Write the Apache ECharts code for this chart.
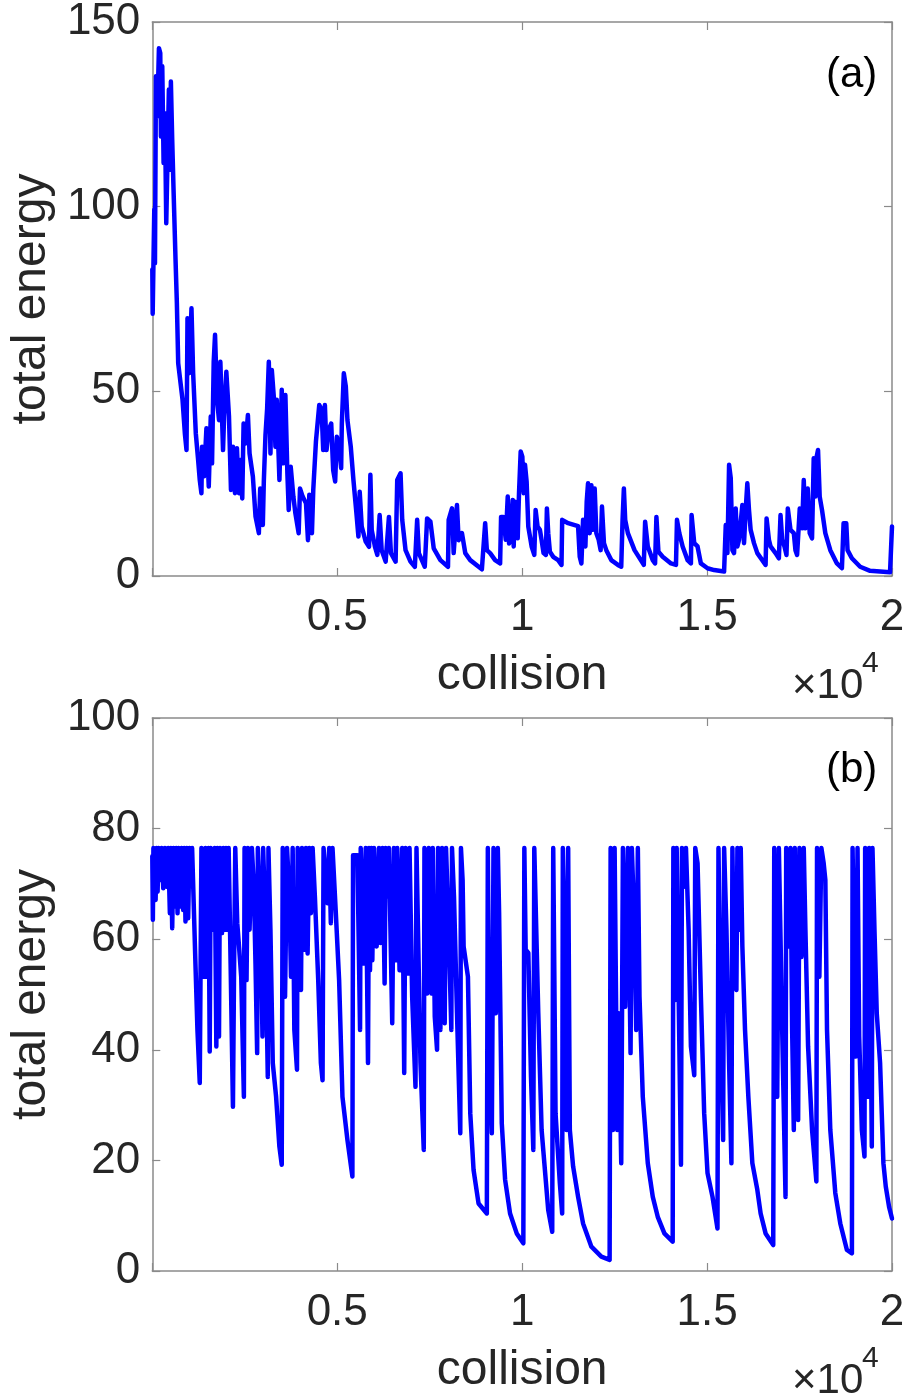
<!DOCTYPE html>
<html>
<head>
<meta charset="utf-8">
<script src="https://cdn.jsdelivr.net/npm/echarts@6/dist/echarts.min.js"></script>
<style>
  html, body { margin: 0; padding: 0; background: #fff; }
  #chart { width: 908px; height: 1399px; }
</style>
</head>
<body>
<div id="chart"></div>
<script>
// ---- data: [collision, total energy] ----
const energyA = [[0,83],[10,71],[53,99.2],[72,84.7],[98,135.3],[134,124.4],[179,142.9],[215,141.6],[233,119],[269,138],[305,111.8],[341,125.3],[377,95.5],[412,113.6],[448,131.7],[475,110],[502,133.9],[538,118.1],[574,104.6],[628,85.6],[664,73.9],[700,57.6],[745,57.6],[817,47.7],[880,38.6],[925,34.1],[951,69.8],[996,54.9],[1059,72.5],[1104,54.9],[1176,38.6],[1239,31.4],[1283,26],[1328,22.4],[1346,35],[1400,27],[1463,40],[1526,24.2],[1580,43.2],[1615,30.5],[1660,58],[1696,65.3],[1750,47.7],[1804,42.2],[1840,58],[1912,34.1],[1947,45],[2001,55.3],[2073,43.2],[2127,23.3],[2181,35],[2235,22.4],[2288,34.6],[2342,22.4],[2378,31.4],[2432,21],[2468,41.3],[2522,35.9],[2585,43.6],[2629,33.2],[2719,26.9],[2791,16.1],[2881,11.6],[2917,23.7],[2988,13.8],[3015,25.6],[3060,38.2],[3105,45.4],[3150,58],[3195,33.2],[3231,55.8],[3284,48.6],[3329,35],[3365,47.7],[3437,26],[3500,50.4],[3545,30.5],[3598,49],[3652,27.8],[3688,17.9],[3742,29.6],[3814,21.5],[3868,17],[3957,11.6],[3993,23.7],[4065,21.5],[4155,19.7],[4209,9.7],[4245,22],[4316,11.6],[4352,23.3],[4424,36.4],[4478,35.9],[4514,46.3],[4577,45],[4621,34.1],[4666,46.3],[4711,34.1],[4765,39.5],[4837,41.3],[4890,28.7],[4944,25.6],[4989,37.7],[5052,35],[5106,29.2],[5124,41.3],[5178,54.9],[5232,51.3],[5276,42.2],[5366,35],[5438,26],[5519,17],[5573,10.7],[5608,22.8],[5662,13.4],[5770,9.3],[5860,7.9],[5896,27.4],[5932,12.5],[6021,7.9],[6084,5.7],[6147,16.5],[6201,7],[6309,3.9],[6398,16],[6452,6.2],[6578,3.9],[6622,26],[6667,25.6],[6712,27.8],[6757,15.2],[6847,7],[6981,3.9],[7098,2.5],[7161,15.2],[7206,6.2],[7367,2.5],[7430,15.6],[7520,14.7],[7609,7.5],[7789,4.3],[7995,2.5],[8013,15.2],[8103,18.3],[8148,6.2],[8237,19.2],[8282,9.7],[8372,11.6],[8462,6.2],[8596,4.3],[8911,1.8],
[9000,14.3],[9045,7.0],[9134,6.2],[9269,4.3],[9404,3.4],[9430,16],[9493,16],[9556,9.8],[9610,21.5],[9646,8.8],[9700,11.6],[9744,20.6],[9771,8],[9807,20.1],[9879,10.2],[9915,22.4],[9960,33.7],[10005,32.3],[10041,22.4],[10077,30.1],[10121,25.5],[10166,13.4],[10256,8],[10328,5.7],[10364,17.9],[10417,13.4],[10480,12.5],[10525,9.8],[10579,6.2],[10642,5.7],[10669,18.3],[10705,11.6],[10750,6.6],[10839,5.2],[10974,4.3],[11064,3],[11082,15.2],[11243,14.3],[11512,13.5],[11557,5.2],[11602,3.4],[11647,15.2],[11710,8],[11745,20.1],[11781,25.1],[11826,11.6],[11871,24.6],[11916,12.5],[11961,23.7],[12006,11.6],[12069,9.8],[12122,7.0],[12158,18.8],[12212,8.9],[12275,7.0],[12409,4.3],[12589,3],[12679,2.5],[12715,15.2],[12750,23.7],[12786,15.2],[12858,11.6],[13038,7.0],[13289,3],[13325,14.7],[13397,8],[13531,4.3],[13594,3.4],[13630,16],[13684,6.6],[13800,5.2],[14025,3.4],[14159,3],[14186,15.2],[14249,11.6],[14339,8],[14473,4.3],[14563,3.4],[14581,16.5],[14653,8.9],[14742,8],[14832,3.4],[15012,2.1],[15191,1.6],[15460,1.2],[15505,13.8],[15550,6.2],[15595,30.1],[15640,26.5],[15685,7.0],[15729,6.2],[15774,18.3],[15819,8],[15864,9.8],[15954,19.2],[15999,8.9],[16044,17.9],[16088,25.1],[16133,17.9],[16178,12.5],[16268,8.9],[16358,6.2],[16492,4.3],[16582,3],[16609,15.6],[16672,9.8],[16717,8],[16851,6.2],[16941,4.8],[16986,16.5],[17031,9.8],[17093,8],[17147,5.7],[17183,18.3],[17255,12.5],[17345,11.6],[17389,7.0],[17434,5.7],[17506,18.3],[17569,12.9],[17614,26],[17659,12.9],[17721,23.7],[17775,11.6],[17838,10.2],[17883,31.9],[17928,21.5],[17955,31.9],[18000,34.1],[18045,21.5],[18107,17.9],[18197,11.6],[18332,7.0],[18511,3.4],[18646,2.1],[18691,14.3],[18763,14.3],[18798,7.0],[18915,4.8],[19139,2.5],[19408,1.4],[19678,1.2],[19947,1],[20000,13.4]];

const energyB = [[0,75],[15,63.5],[30,76.5],[89,67.1],[116,76.5],[143,68.6],[170,76.5],[206,70.7],[251,76.5],[296,69.2],[341,76.5],[385,69.5],[430,76.5],[475,64.7],[502,76.5],[538,62],[574,76.5],[610,65.9],[646,76.5],[682,64.7],[709,76.5],[744,65.9],[789,76.5],[834,65.3],[861,76.5],[897,63.2],[933,76.5],[969,63.8],[1005,76.5],[1041,71.3],[1076,76.5],[1112,76.5],[1166,55.6],[1220,43.6],[1283,34],[1328,76.5],[1400,53.2],[1435,76.5],[1489,53.2],[1516,76.5],[1552,39.7],[1579,76.5],[1642,61.7],[1687,76.5],[1731,40.6],[1758,76.5],[1803,42.4],[1830,76.5],[1884,61.1],[1920,76.5],[1956,61.7],[1992,76.5],[2028,61.7],[2064,76.5],[2117,55.6],[2180,29.7],[2207,52],[2243,76.5],[2297,62.9],[2351,58.1],[2404,53.2],[2476,31.5],[2494,76.5],[2548,52.6],[2584,76.5],[2629,61.7],[2692,76.5],[2745,69.5],[2790,55.6],[2835,39.4],[2853,76.5],[2925,64.7],[2979,42.4],[2997,76.5],[3051,64.7],[3122,35.1],[3140,76.5],[3194,61.7],[3257,37.6],[3347,31.5],[3436,22.5],[3499,19.2],[3526,76.5],[3589,49.6],[3643,76.5],[3706,67.7],[3750,53.2],[3795,76.5],[3840,43.6],[3912,36.4],[3930,76.5],[3975,53.2],[4020,50.8],[4047,76.5],[4109,58.1],[4154,76.5],[4199,57.4],[4244,76.5],[4289,64.7],[4334,76.5],[4396,67.7],[4486,52.6],[4558,37.6],[4603,34.5],[4630,76.5],[4738,66.5],[4782,76.5],[4827,62.9],[4872,76.5],[4962,64.7],[5051,52.6],[5141,31.5],[5276,23.7],[5410,17.1],[5428,75.2],[5545,75.2],[5617,43.6],[5635,76.5],[5707,55.6],[5770,76.5],[5832,37.6],[5859,76.5],[5886,54.4],[5922,76.5],[5949,56.2],[5994,76.5],[6065,58.7],[6128,76.5],[6173,59.3],[6227,76.5],[6281,52],[6308,76.5],[6353,67.7],[6397,76.5],[6487,44.8],[6532,76.5],[6596,56.2],[6623,76.5],[6685,54.4],[6757,76.5],[6811,35.8],[6847,76.5],[6919,53.8],[6955,76.5],[7026,49.6],[7116,33.3],[7143,76.5],[7251,37.6],[7340,21.9],[7358,76.5],[7430,50.2],[7475,76.5],[7547,50.2],[7583,76.5],[7637,46],[7699,40],[7726,76.5],[7789,43.6],[7834,76.5],[7906,44.8],[7942,76.5],[8013,61.7],[8085,43.6],[8103,76.5],[8157,67.7],[8238,46.6],[8327,24.9],[8345,76.5],[8390,70.7],[8417,58.7],[8534,53.2],[8597,28.5],[8686,18.3],[8821,12.2],[9045,10.4],[9072,76.5],[9108,41.8],[9180,24.9],[9225,76.5],[9288,46.6],[9342,76.5],[9377,64.7],[9449,26.7],[9539,16.5],[9673,10.4],[9853,6.8],[10032,5],[10059,76.5],[10095,58.1],[10167,57.5],[10239,35.1],[10302,21.9],[10328,76.5],[10382,76.5],[10436,46.6],[10526,25.5],[10705,11],[10813,7.1],[10840,76.5],[10903,28.5],[11019,15.9],[11082,10.4],[11100,76.5],[11154,57.5],[11199,25.5],[11244,76.5],[11289,25.5],[11378,18.9],[11513,13.4],[11647,8.6],[11872,4.4],[12141,2.6],[12365,2],[12392,76.5],[12455,25.5],[12500,76.5],[12572,25.5],[12608,46.6],[12679,19.5],[12724,76.5],[12787,47.8],[12823,47.8],[12859,76.5],[12931,39.4],[12966,76.5],[13038,61.7],[13083,43.6],[13128,76.5],[13173,49.6],[13262,31.5],[13397,19.5],[13532,13.4],[13666,9.8],[13846,6.8],[14070,5.3],[14088,76.5],[14142,49],[14178,76.5],[14232,49.6],[14294,19.2],[14321,76.5],[14384,69.5],[14429,76.5],[14501,61.7],[14563,40.6],[14653,35.4],[14680,76.5],[14743,73.7],[14833,49.6],[14922,28.5],[15012,17.7],[15147,13.4],[15281,7.7],[15308,76.5],[15371,43.6],[15434,23.7],[15461,76.5],[15524,61.7],[15595,37.6],[15658,19.5],[15685,76.5],[15730,52.6],[15793,50.8],[15820,76.5],[15865,61.7],[15910,76.5],[15954,58.7],[16026,43.6],[16116,31.5],[16224,19.5],[16358,14.7],[16448,10.4],[16582,6.8],[16789,4.7],[16816,76.5],[16852,55.6],[16897,31.5],[16941,76.5],[17031,43.6],[17121,13.4],[17139,76.5],[17211,58.7],[17255,76.5],[17300,43.6],[17345,25.5],[17372,76.5],[17435,49.6],[17462,27.3],[17498,76.5],[17552,56.8],[17614,76.5],[17659,61.7],[17731,40.6],[17839,25.5],[17955,16.2],[17973,76.5],[18036,53.2],[18090,76.5],[18153,73.7],[18198,70.7],[18243,43.6],[18332,25.5],[18467,14.1],[18602,8.6],[18781,3.8],[18916,3.2],[18934,76.5],[18987,49.6],[19023,38.8],[19068,76.5],[19113,42.4],[19185,25.5],[19256,20.7],[19274,76.5],[19346,31.5],[19382,76.5],[19418,49.6],[19454,22.5],[19472,76.5],[19526,61.7],[19588,46.6],[19678,37.6],[19723,28.5],[19768,19.5],[19831,15.3],[19921,11.6],[20000,9.5]];

const xTicks = [0, 5000, 10000, 15000, 20000];
const yTicksA = [0, 50, 100, 150];
const yTicksB = [0, 20, 40, 60, 80, 100];
const panelLabels = ['(a)', '(b)'];
const xName = 'collision';
const yName = 'total energy';

// ---- styling ----
const FONT = "'Liberation Sans', Arial, Helvetica, sans-serif";
const AX = '#8a8a8a';
const TXT = '#262626';
const TICK_FS = 44;
const NAME_FS = 48;

function xAxisBottom(gi) {
  return {
    type: 'value', gridIndex: gi, min: xTicks[0], max: xTicks[xTicks.length - 1], interval: xTicks[1] - xTicks[0],
    position: 'bottom',
    name: xName, nameLocation: 'middle', nameGap: 76,
    nameTextStyle: { fontFamily: FONT, fontSize: NAME_FS, color: TXT },
    axisLine: { show: true, onZero: false, lineStyle: { color: AX, width: 1.5 } },
    axisTick: { show: true, inside: true, length: 8, lineStyle: { color: AX, width: 1.2 } },
    axisLabel: { margin: 20, fontFamily: FONT, fontSize: TICK_FS, color: TXT,
      formatter: v => v === 0 ? '' : String(v / 10000) },
    splitLine: { show: false }
  };
}
function xAxisTop(gi) {
  return {
    type: 'value', gridIndex: gi, min: xTicks[0], max: xTicks[xTicks.length - 1], interval: xTicks[1] - xTicks[0],
    position: 'top',
    axisLine: { show: true, onZero: false, lineStyle: { color: AX, width: 1.5 } },
    axisTick: { show: true, inside: true, length: 8, lineStyle: { color: AX, width: 1.2 } },
    axisLabel: { show: false }, splitLine: { show: false }
  };
}
function yAxisLeft(gi, ticks) {
  return {
    type: 'value', gridIndex: gi, min: ticks[0], max: ticks[ticks.length - 1], interval: ticks[1] - ticks[0],
    position: 'left',
    name: yName, nameLocation: 'middle', nameGap: 90, nameRotate: 90,
    nameTextStyle: { fontFamily: FONT, fontSize: NAME_FS, color: TXT },
    axisLine: { show: true, onZero: false, lineStyle: { color: AX, width: 1.5 } },
    axisTick: { show: true, inside: true, length: 8, lineStyle: { color: AX, width: 1.2 } },
    axisLabel: { margin: 12, fontFamily: FONT, fontSize: TICK_FS, color: TXT },
    splitLine: { show: false }
  };
}
function yAxisRight(gi, ticks) {
  return {
    type: 'value', gridIndex: gi, min: ticks[0], max: ticks[ticks.length - 1], interval: ticks[1] - ticks[0],
    position: 'right',
    axisLine: { show: true, onZero: false, lineStyle: { color: AX, width: 1.5 } },
    axisTick: { show: true, inside: true, length: 8, lineStyle: { color: AX, width: 1.2 } },
    axisLabel: { show: false }, splitLine: { show: false }
  };
}

const chart = echarts.init(document.getElementById('chart'), null, { renderer: 'canvas' });

function expText(x, y) {
  return [
    { type: 'text', left: x, top: y + 10, style: { text: '\u00d710', font: '42px ' + FONT, fill: TXT } },
    { type: 'text', left: x + 70, top: y - 6, style: { text: '4', font: '30px ' + FONT, fill: TXT } }
  ];
}

function lineSeries(xi, yi, data) {
  return {
    type: 'line', xAxisIndex: xi, yAxisIndex: yi, data: data, showSymbol: false, symbol: 'none',
    sampling: null, smooth: false, clip: true,
    lineStyle: { color: '#0000ff', width: 4.5, join: 'round', cap: 'round' },
    emphasis: { disabled: true }
  };
}

chart.setOption({
  animation: false,
  backgroundColor: '#fff',
  grid: [
    { left: 149, top: 22, width: 743, height: 554 },
    { left: 149, top: 718, width: 743, height: 553 }
  ],
  xAxis: [xAxisBottom(0), xAxisTop(0), xAxisBottom(1), xAxisTop(1)],
  yAxis: [yAxisLeft(0, yTicksA), yAxisRight(0, yTicksA), yAxisLeft(1, yTicksB), yAxisRight(1, yTicksB)],
  series: [lineSeries(0, 0, energyA), lineSeries(2, 2, energyB)],
  graphic: [
    { type: 'text', left: 826, top: 54, style: { text: panelLabels[0], font: '42px ' + FONT, fill: '#000' } },
    { type: 'text', left: 826, top: 749, style: { text: panelLabels[1], font: '42px ' + FONT, fill: '#000' } }
  ].concat(expText(792, 655), expText(792, 1350))
});
</script>
</body>
</html>
